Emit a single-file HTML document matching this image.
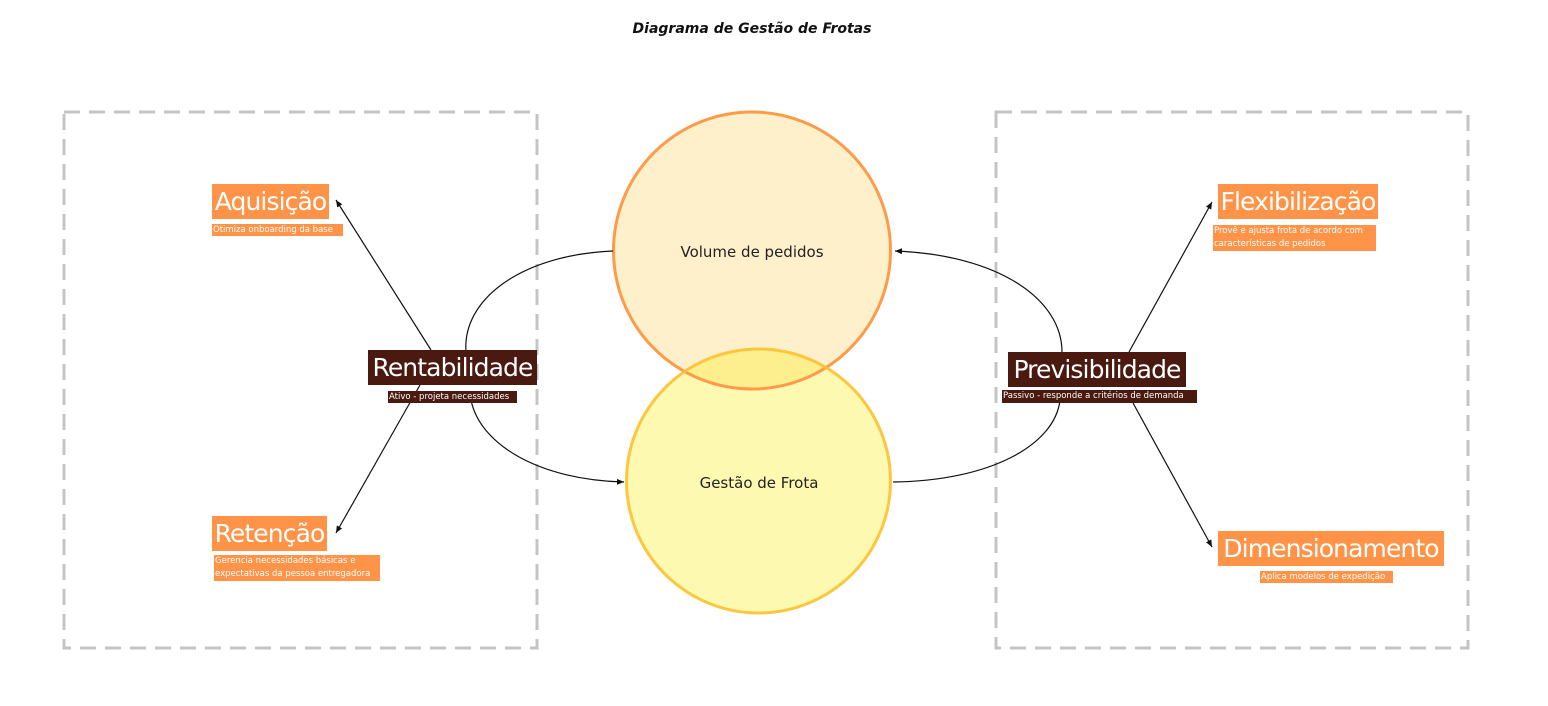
<!DOCTYPE html>
<html><head><meta charset="utf-8"><style>
body{margin:0;background:#fff;width:1548px;height:706px;position:relative;overflow:hidden;font-family:"DejaVu Sans","Liberation Sans",sans-serif}
.b{position:absolute;color:#fff;white-space:nowrap;text-align:center;box-sizing:border-box;overflow:hidden}
.o{background:#ff9348}.d{background:#4a1a10}
.t{font-size:25px;line-height:35px;letter-spacing:-0.9px}
.s{font-size:8.5px;line-height:12px;text-align:left;padding-left:1px}
</style></head><body>
<svg width="1548" height="706" style="position:absolute;left:0;top:0">
<defs>
<marker id="a" markerWidth="8" markerHeight="8" refX="7" refY="4" orient="auto" markerUnits="userSpaceOnUse"><path d="M0,1 L7,4 L0,7 z" fill="#111"/></marker>
<clipPath id="c1"><circle cx="752" cy="250.5" r="138.5"/></clipPath>
</defs>
<text x="752" y="33" text-anchor="middle" font-family="DejaVu Sans, Liberation Sans, sans-serif" font-weight="bold" font-style="italic" font-size="14" fill="#111">Diagrama de Gestão de Frotas</text>
<rect x="64" y="112" width="473" height="536" fill="none" stroke="#c4c4c4" stroke-width="3" stroke-dasharray="16 9"/>
<rect x="996" y="112" width="472" height="536" fill="none" stroke="#c4c4c4" stroke-width="3" stroke-dasharray="16 9"/>
<circle cx="752" cy="250.5" r="138.5" fill="#fff0cc"/>
<circle cx="758.5" cy="481" r="132" fill="#fef9b1"/>
<circle cx="758.5" cy="481" r="132" fill="#feef8e" clip-path="url(#c1)"/>
<circle cx="752" cy="250.5" r="138.5" fill="none" stroke="#ff9a48" stroke-width="3"/>
<circle cx="758.5" cy="481" r="132" fill="none" stroke="#fec02e" stroke-width="3" opacity="0.9"/>
<text x="752" y="257" text-anchor="middle" font-size="15" fill="#222">Volume de pedidos</text>
<text x="759" y="488" text-anchor="middle" font-size="15" fill="#222">Gestão de Frota</text>
<g fill="none" stroke="#111" stroke-width="1.2">
<path d="M613,251 C520,255 462,300 466,352 M471,400 C480,445 540,480 624,482" marker-end="url(#a)"/>
<path d="M893,482 C990,481 1055,445 1060,400 M1062,352 C1062,300 1000,255 895,251" marker-end="url(#a)"/>
<path d="M431,350 L336,200" marker-end="url(#a)"/>
<path d="M420,385 L336,533" marker-end="url(#a)"/>
<path d="M1129,352 L1212,202" marker-end="url(#a)"/>
<path d="M1133,403 L1212,547" marker-end="url(#a)"/>
</g>
</svg>
<div class="b o t" style="left:212px;top:184px;width:117px">Aquisição</div>
<div class="b o s" style="left:212px;top:224px;width:131px">Otimiza onboarding da base</div>
<div class="b d t" style="left:368px;top:350px;width:169px">Rentabilidade</div>
<div class="b d s" style="left:388px;top:391px;width:129px">Ativo - projeta necessidades</div>
<div class="b o t" style="left:212px;top:516px;width:115px">Retenção</div>
<div class="b o s" style="left:214px;top:555px;width:166px;line-height:13px">Gerencia necessidades básicas e<br>expectativas da pessoa entregadora</div>
<div class="b d t" style="left:1008px;top:352px;width:178px">Previsibilidade</div>
<div class="b d s" style="left:1002px;top:390px;width:195px;line-height:13px">Passivo - responde a critérios de demanda</div>
<div class="b o t" style="left:1218px;top:184px;width:160px">Flexibilização</div>
<div class="b o s" style="left:1213px;top:225px;width:163px;line-height:13px">Provê e ajusta frota de acordo com<br>características de pedidos</div>
<div class="b o t" style="left:1218px;top:531px;width:226px">Dimensionamento</div>
<div class="b o s" style="left:1260px;top:571px;width:133px">Aplica modelos de expedição</div>
</body></html>
